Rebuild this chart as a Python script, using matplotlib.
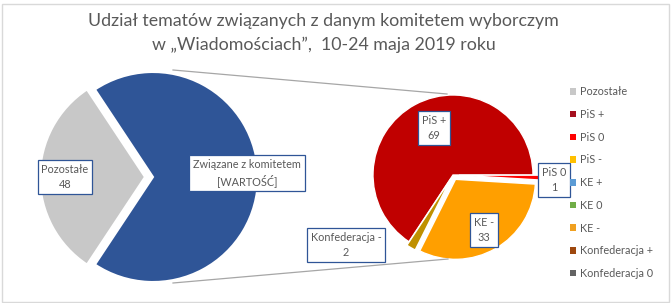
import matplotlib.pyplot as plt
from matplotlib.patches import Patch, Rectangle

# Main pie: the rest vs. topics linked to a committee
MAIN_LABELS = ["Pozostałe", "Związane z komitetem"]
POZOSTALE = 48

# Secondary pie (all categories, in legend order)
SUB_LABELS = ["PiS +", "PiS 0", "PiS -", "KE +", "KE 0", "KE -",
              "Konfederacja +", "Konfederacja 0", "Konfederacja -"]
SUB_VALUES = [69, 1, 0, 0, 0, 33, 0, 0, 2]
SUB_COLORS = ["#C00000", "#FF0000", "#FFC000", "#5B9BD5", "#70AD47",
              "#FF9F00", "#9E480E", "#636363", "#BF9000"]
LEGEND_COLORS = ["#C8C8C8", "#A50F1E", "#FF0000", "#FFC000", "#5B9BD5",
                 "#70AD47", "#F0A020", "#9E480E", "#636363"]

TITLE = "Udział tematów związanych z danym komitetem wyborczym\nw „Wiadomościach”,  10-24 maja 2019 roku"

W, H = 671, 303
TXT = "#595959"
BOX = dict(boxstyle="square,pad=0.35", fc="white", ec="#2F5597", lw=0.9)

plt.rcParams["font.family"] = ["Lato", "DejaVu Sans"]

fig = plt.figure(figsize=(W / 100, H / 100), dpi=100)
ax = fig.add_axes([0, 0, 1, 1])


def py(y):
    # convert pixel row (from top) to axis y
    return H - y


linked = sum(SUB_VALUES)
main_vals = [POZOSTALE, linked]
frac = POZOSTALE / (POZOSTALE + linked)
# explode is in data units here (pixels), not fractions of the radius
ax.pie(main_vals, colors=["#C8C8C8", "#2F5597"], startangle=180 - frac * 180,
       counterclock=True, explode=[8, 0], center=(153, py(177)), radius=105,
       wedgeprops=dict(edgecolor="white", linewidth=1.5))

# secondary pie: only non-zero wedges, clockwise like Excel
order = [0, 1, 5, 8]
vals = [SUB_VALUES[i] for i in order]
cols = [SUB_COLORS[i] for i in order]
start = SUB_VALUES[0] / linked * 360
ax.pie(vals, colors=cols, startangle=start, counterclock=False,
       explode=[0, 6, 5, 4], center=(453, py(175)), radius=80,
       wedgeprops=dict(edgecolor="white", linewidth=1))

# connector lines
ax.plot([173, 447], [py(70), py(94)], color="#A6A6A6", lw=0.9)
ax.plot([173, 448], [py(283), py(259)], color="#A6A6A6", lw=0.9)

ax.set_xlim(0, W)
ax.set_ylim(0, H)
ax.set_aspect("auto")
ax.axis("off")

fs = 7.8
lab = dict(ha="center", va="center", fontsize=fs, color=TXT, bbox=BOX,
           linespacing=1.45)
ax.text(65, py(177), f"{MAIN_LABELS[0]}\n{POZOSTALE}", **lab)
ax.text(247, py(173), f"{MAIN_LABELS[1]}\n[WARTOŚĆ]", **lab)
ax.text(434, py(128), f"{SUB_LABELS[0]}\n{SUB_VALUES[0]}", **lab)
ax.text(554, py(180), f"{SUB_LABELS[1]}\n{SUB_VALUES[1]}", **lab)
ax.text(484, py(230), f"{SUB_LABELS[5]}\n{SUB_VALUES[5]}", **lab)
ax.text(346, py(245), f"{SUB_LABELS[8]}\n{SUB_VALUES[8]}", **lab)

ax.text(W / 2 - 12, py(33), TITLE, ha="center", va="center", fontsize=12.8,
        color=TXT, linespacing=1.55)

# legend (the last category is cut off in the original)
leg_labels = ["Pozostałe"] + SUB_LABELS[:8]
handles = [Patch(facecolor=c, edgecolor="none") for c in LEGEND_COLORS]
fig.legend(handles, leg_labels, loc="upper left", bbox_to_anchor=(566 / W, 1 - 82 / H),
           frameon=False, fontsize=fs, handlelength=0.55, handleheight=0.55,
           handletextpad=0.35, labelspacing=1.08, labelcolor=TXT, borderaxespad=0)

fig.patches.append(Rectangle((1.5 / W, 1.5 / H), (W - 4) / W, (H - 5) / H,
                             transform=fig.transFigure, fill=False,
                             ec="#D9D9D9", lw=1))

fig.savefig("out.png", dpi=100)
